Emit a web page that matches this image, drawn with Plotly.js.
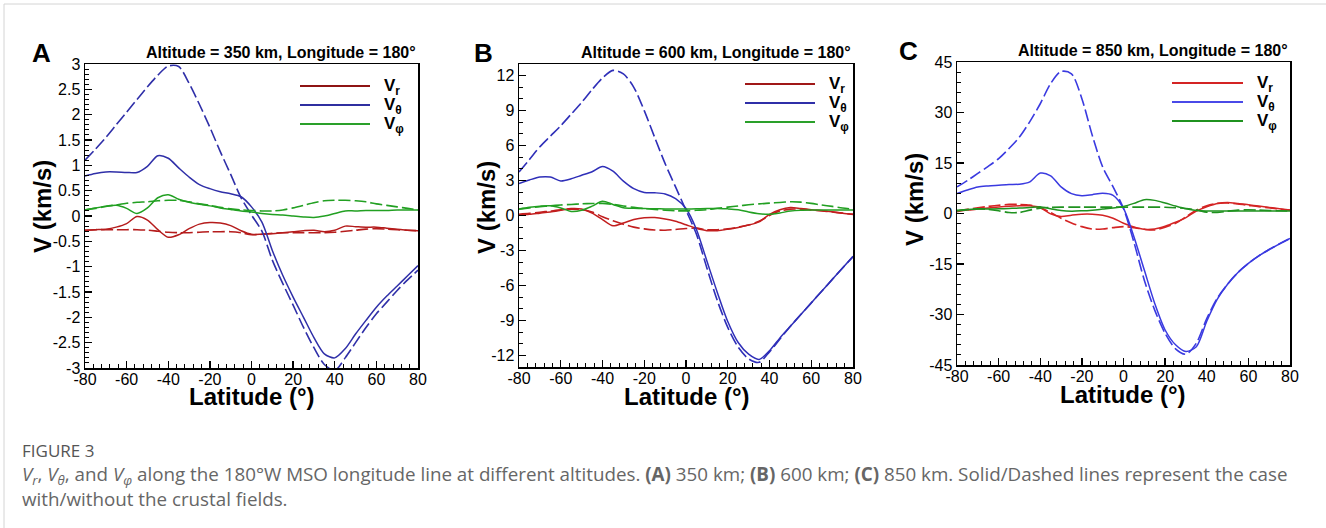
<!DOCTYPE html>
<html>
<head>
<meta charset="utf-8">
<script src="https://cdn.plot.ly/plotly-3.0.1.min.js"></script>
<style>
html,body{margin:0;padding:0;background:#fff;}
#chart{width:1326px;height:528px;}
</style>
</head>
<body>
<div id="chart"></div>
<script>
// Latitude grid (degrees)
const lat = [-80,-75,-70,-65,-60,-55,-50,-45,-40,-35,-30,-25,-20,-15,-10,-5,0,5,10,15,20,25,30,35,40,45,50,55,60,65,70,75,80];

// Panel A: 350 km (solid = with crustal fields, dashed = without)
const vrA_solid   = [-0.28,-0.27,-0.26,-0.22,-0.15,-0.01,-0.08,-0.27,-0.42,-0.37,-0.25,-0.16,-0.13,-0.14,-0.19,-0.29,-0.36,-0.36,-0.35,-0.33,-0.31,-0.29,-0.28,-0.31,-0.28,-0.20,-0.21,-0.22,-0.22,-0.24,-0.26,-0.28,-0.29];
const vrA_dashed  = [-0.28,-0.27,-0.27,-0.27,-0.27,-0.27,-0.28,-0.30,-0.32,-0.33,-0.33,-0.32,-0.31,-0.31,-0.31,-0.33,-0.37,-0.36,-0.34,-0.33,-0.33,-0.33,-0.33,-0.33,-0.32,-0.30,-0.28,-0.26,-0.25,-0.26,-0.27,-0.28,-0.29];
const vthA_solid  = [0.79,0.84,0.87,0.87,0.86,0.86,0.98,1.19,1.14,0.95,0.77,0.62,0.54,0.48,0.44,0.38,0.18,-0.12,-0.68,-1.17,-1.60,-2.00,-2.40,-2.72,-2.80,-2.62,-2.33,-2.06,-1.80,-1.58,-1.38,-1.18,-0.98];
const vthA_dashed = [1.10,1.32,1.55,1.80,2.05,2.30,2.55,2.78,2.96,2.95,2.62,2.20,1.75,1.27,0.82,0.36,0.02,-0.30,-0.87,-1.33,-1.76,-2.20,-2.60,-2.93,-3.05,-2.80,-2.50,-2.20,-1.93,-1.70,-1.47,-1.26,-1.07];
const vphA_solid  = [0.12,0.16,0.19,0.21,0.15,0.05,0.16,0.36,0.42,0.33,0.27,0.23,0.20,0.16,0.13,0.10,0.08,0.05,0.03,0.02,0.00,-0.02,-0.03,0.00,0.05,0.10,0.10,0.11,0.11,0.11,0.12,0.12,0.12];
const vphA_dashed = [0.12,0.15,0.19,0.22,0.25,0.27,0.28,0.30,0.31,0.31,0.28,0.24,0.21,0.17,0.14,0.12,0.11,0.10,0.10,0.12,0.16,0.21,0.26,0.30,0.31,0.31,0.30,0.28,0.24,0.21,0.18,0.15,0.12];

// Panel B: 600 km
const vrB_solid   = [0.04,0.10,0.20,0.30,0.45,0.60,0.55,0.20,-0.35,-0.88,-0.65,-0.35,-0.20,-0.18,-0.30,-0.50,-0.80,-1.10,-1.30,-1.30,-1.18,-1.02,-0.82,-0.55,0.10,0.50,0.68,0.60,0.50,0.42,0.32,0.20,0.10];
const vrB_dashed  = [0.10,0.18,0.28,0.38,0.48,0.55,0.50,0.30,-0.10,-0.45,-0.75,-1.00,-1.15,-1.24,-1.26,-1.20,-1.12,-1.08,-1.22,-1.22,-1.15,-1.00,-0.82,-0.50,0.00,0.38,0.55,0.55,0.48,0.40,0.30,0.20,0.10];
const vthB_solid  = [2.75,3.05,3.30,3.30,2.97,3.15,3.45,3.75,4.20,3.80,2.95,2.30,1.98,1.95,1.85,1.45,0.60,-1.20,-3.90,-6.60,-9.10,-10.90,-11.90,-12.35,-11.60,-10.50,-9.50,-8.50,-7.50,-6.50,-5.50,-4.50,-3.50];
const vthB_dashed = [3.74,4.80,5.90,6.80,7.70,8.70,9.70,10.80,11.80,12.45,12.15,11.00,9.00,6.70,4.45,2.45,0.45,-1.60,-4.50,-7.30,-9.60,-11.30,-12.30,-12.60,-11.70,-10.60,-9.50,-8.50,-7.50,-6.50,-5.50,-4.50,-3.55];
const vphB_solid  = [0.55,0.70,0.80,0.84,0.65,0.35,0.45,0.80,1.22,0.95,0.67,0.62,0.60,0.58,0.56,0.55,0.55,0.57,0.60,0.60,0.57,0.50,0.30,0.15,0.10,0.22,0.38,0.45,0.47,0.47,0.47,0.47,0.47];
const vphB_dashed = [0.55,0.65,0.75,0.83,0.90,0.95,1.00,1.03,1.04,0.95,0.82,0.70,0.60,0.52,0.45,0.40,0.40,0.45,0.50,0.62,0.72,0.82,0.92,1.00,1.06,1.12,1.18,1.15,1.04,0.90,0.78,0.65,0.55];

// Panel C: 850 km
const vrC_solid   = [0.55,1.00,1.30,1.60,1.90,2.15,2.30,2.30,1.70,-0.10,-0.90,-0.50,-0.20,-0.20,-0.50,-1.40,-2.90,-4.00,-4.70,-4.60,-3.80,-2.60,-1.20,0.70,2.00,3.00,3.30,3.00,2.60,2.20,1.80,1.40,1.00];
const vrC_dashed  = [0.75,1.25,1.70,2.10,2.45,2.70,2.70,2.50,1.70,0.30,-1.40,-2.80,-3.90,-4.60,-4.60,-4.20,-3.90,-4.20,-4.70,-4.90,-4.10,-2.90,-1.00,1.00,2.30,3.00,3.10,2.80,2.40,2.00,1.70,1.30,1.00];
const vthC_solid  = [5.9,7.0,7.9,8.2,8.4,8.6,8.7,9.4,12.0,11.2,7.9,5.9,5.3,5.6,6.0,5.4,1.5,-6.9,-16.8,-26.7,-34.6,-39.0,-41.0,-39.6,-32.0,-25.5,-21.0,-17.5,-14.8,-12.6,-10.7,-9.0,-7.4];
const vthC_dashed = [7.9,9.8,11.9,14.0,16.3,19.3,22.7,27.3,32.6,38.6,42.2,41.5,34.1,23.2,13.8,7.9,1.5,-8.5,-19.8,-28.7,-35.6,-40.2,-41.8,-38.5,-31.2,-25.2,-21.0,-17.5,-14.8,-12.6,-10.7,-9.0,-7.4];
const vphC_solid  = [1.00,1.20,1.30,1.35,1.40,1.50,1.60,1.80,2.00,1.40,0.90,0.70,0.80,1.00,1.30,1.60,2.10,3.00,4.10,3.90,3.10,2.20,1.40,0.90,0.75,0.75,0.75,0.75,0.75,0.75,0.75,0.75,0.75];
const vphC_dashed = [0.75,1.10,1.40,1.20,0.80,0.30,0.30,1.00,1.60,1.80,1.90,1.90,1.90,1.90,1.90,1.90,1.90,1.90,1.90,1.90,1.85,1.70,1.50,1.10,0.40,0.30,0.70,1.00,1.10,1.00,0.90,0.80,0.70];

// Tick labels
const xTickVals = [-80,-60,-40,-20,0,20,40,60,80];
const xTickText = ["-80","-60","-40","-20","0","20","40","60","80"];
const yTickValsA = [-3,-2.5,-2,-1.5,-1,-0.5,0,0.5,1,1.5,2,2.5,3];
const yTickTextA = ["-3","-2.5","-2","-1.5","-1","-0.5","0","0.5","1","1.5","2","2.5","3"];
const yTickValsB = [-12,-9,-6,-3,0,3,6,9,12];
const yTickTextB = ["-12","-9","-6","-3","0","3","6","9","12"];
const yTickValsC = [-45,-30,-15,0,15,30,45];
const yTickTextC = ["-45","-30","-15","0","15","30","45"];

// Text
const panelLetters = ["A","B","C"];
const panelTitles = ["Altitude = 350 km, Longitude = 180°","Altitude = 600 km, Longitude = 180°","Altitude = 850 km, Longitude = 180°"];
const legendNames = ["V<sub>r</sub>","V<sub>θ</sub>","V<sub>φ</sub>"];
const xTitle = "Latitude (°)";
const yTitle = "V (km/s)";
const figLabel = "FIGURE 3";
const caption1 = "<i>V</i><sub><i>r</i></sub>, <i>V</i><sub><i>θ</i></sub>, and <i>V</i><sub><i>φ</i></sub> along the 180°W MSO longitude line at different altitudes. <b>(A)</b> 350 km; <b>(B)</b> 600 km; <b>(C)</b> 850 km. Solid/Dashed lines represent the case";
const caption2 = "with/without the crustal fields.";

const W = 1326, H = 528;
const px = v => v / W;
const py = v => 1 - v / H;

const panels = [
  {xa:'x', ya:'y', colors:['#b51c1c','#2f2fa8','#22a022'], legC:['#8e1414','#2f2fa0','#2aa02a'],
   data:[vrA_solid,vrA_dashed,vthA_solid,vthA_dashed,vphA_solid,vphA_dashed],
   plot:[85,418,64,368], yr:[-3,3], ytv:yTickValsA, ytt:yTickTextA, ymin:0.1,
   leg:[300,370,86,105,124], letter:[41,53], ytitle:[42,207], xtitle:[252,396]},
  {xa:'x2', ya:'y2', colors:['#c21e1e','#2f2fb8','#22a022'], legC:['#a01818','#2f2fa8','#2aa02a'],
   data:[vrB_solid,vrB_dashed,vthB_solid,vthB_dashed,vphB_solid,vphB_dashed],
   plot:[519,853,64,367], yr:[-13,13], ytv:yTickValsB, ytt:yTickTextB, ymin:1,
   leg:[745,815,84,103,122], letter:[483,53], ytitle:[486,207], xtitle:[687,396]},
  {xa:'x3', ya:'y3', colors:['#d42424','#3a3ae0','#1f921f'], legC:['#d42424','#4a4ae8','#1f921f'],
   data:[vrC_solid,vrC_dashed,vthC_solid,vthC_dashed,vphC_solid,vphC_dashed],
   plot:[957,1290,62,365], yr:[-45,45], ytv:yTickValsC, ytt:yTickTextC, ymin:3,
   leg:[1172,1243,83,102,121], letter:[908,51], ytitle:[914,200], xtitle:[1123,394]}
];

const traces = [];
const layout = {
  width: W, height: H,
  margin: {l:0, r:0, t:0, b:0},
  paper_bgcolor: '#fff', plot_bgcolor: '#fff',
  showlegend: false,
  font: {family: 'Liberation Sans, Arial, sans-serif', color: '#000'},
  annotations: [], shapes: []
};

panels.forEach((p, i) => {
  for (let k = 0; k < 3; k++) {
    traces.push({x: lat, y: p.data[2*k], xaxis: p.xa, yaxis: p.ya, type: 'scatter', mode: 'lines',
      line: {color: p.colors[k], width: 1.5, shape: 'spline', smoothing: 0.8}, hoverinfo: 'skip'});
    traces.push({x: lat, y: p.data[2*k+1], xaxis: p.xa, yaxis: p.ya, type: 'scatter', mode: 'lines',
      line: {color: p.colors[k], width: 1.6, dash: '12px,4px', shape: 'spline', smoothing: 0.8}, hoverinfo: 'skip'});
  }
  const sfx = i === 0 ? '' : String(i + 1);
  const axCommon = {
    showline: true, linecolor: '#000', linewidth: 1.5, mirror: true,
    ticks: 'inside', ticklen: 7, tickwidth: 1.3, tickcolor: '#000',
    showgrid: false, zeroline: false, fixedrange: true,
    tickfont: {family: 'Liberation Sans, Arial, sans-serif', size: 16, color: '#000'}
  };
  layout['xaxis' + sfx] = Object.assign({}, axCommon, {
    domain: [px(p.plot[0]), px(p.plot[1])], anchor: 'y' + sfx,
    range: [-80, 80], tickmode: 'array', tickvals: xTickVals, ticktext: xTickText, ticklabelstandoff: -4,
    minor: {ticks: 'inside', ticklen: 4, tickwidth: 1, tickcolor: '#000', tickmode: 'linear', tick0: -80, dtick: 4, showgrid: false}
  });
  layout['yaxis' + sfx] = Object.assign({}, axCommon, {
    domain: [py(p.plot[3]), py(p.plot[2])], anchor: 'x' + sfx,
    range: p.yr, tickmode: 'array', tickvals: p.ytv, ticktext: p.ytt,
    minor: {ticks: 'inside', ticklen: 4, tickwidth: 1, tickcolor: '#000', tickmode: 'linear', tick0: 0, dtick: p.ymin, showgrid: false}
  });
  // legend samples
  for (let k = 0; k < 3; k++) {
    const yy = p.leg[2 + k];
    layout.shapes.push({type: 'line', xref: 'paper', yref: 'paper', x0: px(p.leg[0]), x1: px(p.leg[1]), y0: py(yy), y1: py(yy),
      line: {color: p.legC[k], width: 1.8}});
    layout.annotations.push({xref: 'paper', yref: 'paper', x: px(p.leg[1] + 12), y: py(yy + 1), xanchor: 'left', yanchor: 'middle',
      text: '<b>' + legendNames[k] + '</b>', showarrow: false, font: {size: 17, color: '#000'}});
  }
  // panel letter
  layout.annotations.push({xref: 'paper', yref: 'paper', x: px(p.letter[0]), y: py(p.letter[1]), xanchor: 'center', yanchor: 'middle',
    text: '<b>' + panelLetters[i] + '</b>', showarrow: false, font: {size: 26, color: '#000'}});
  // panel title
  layout.annotations.push({xref: 'paper', yref: 'paper', x: px(p.plot[1]), y: py(p.plot[2] - 11), xanchor: 'right', yanchor: 'middle',
    text: '<b>' + panelTitles[i] + '</b>', showarrow: false, font: {size: 16, color: '#000'}});
  // axis titles
  layout.annotations.push({xref: 'paper', yref: 'paper', x: px(p.ytitle[0]), y: py(p.ytitle[1]), xanchor: 'center', yanchor: 'middle',
    text: '<b>' + yTitle + '</b>', textangle: -90, showarrow: false, font: {size: 24, color: '#000'}});
  layout.annotations.push({xref: 'paper', yref: 'paper', x: px(p.xtitle[0]), y: py(p.xtitle[1]), xanchor: 'center', yanchor: 'middle',
    text: '<b>' + xTitle + '</b>', showarrow: false, font: {size: 24, color: '#000'}});
});

// caption
const capFont = 'Open Sans, Noto Sans, sans-serif';
layout.annotations.push({xref: 'paper', yref: 'paper', x: px(20), y: py(450), xanchor: 'left', yanchor: 'middle',
  text: figLabel, showarrow: false, font: {family: capFont, size: 17, color: '#555'}});
layout.annotations.push({xref: 'paper', yref: 'paper', x: px(20), y: py(475), xanchor: 'left', yanchor: 'middle',
  text: caption1, showarrow: false, font: {family: capFont, size: 18.8, color: '#666'}});
layout.annotations.push({xref: 'paper', yref: 'paper', x: px(20), y: py(499), xanchor: 'left', yanchor: 'middle',
  text: caption2, showarrow: false, font: {family: capFont, size: 18.8, color: '#666'}});

// figure frame lines
layout.shapes.push({type: 'line', xref: 'paper', yref: 'paper', x0: px(4), x1: 1, y0: py(4), y1: py(4), line: {color: '#d4d4d4', width: 1}});
layout.shapes.push({type: 'line', xref: 'paper', yref: 'paper', x0: px(4), x1: px(4), y0: py(4), y1: 0, line: {color: '#d4d4d4', width: 1}});

Plotly.newPlot('chart', traces, layout, {displayModeBar: false, staticPlot: true});
</script>
</body>
</html>
